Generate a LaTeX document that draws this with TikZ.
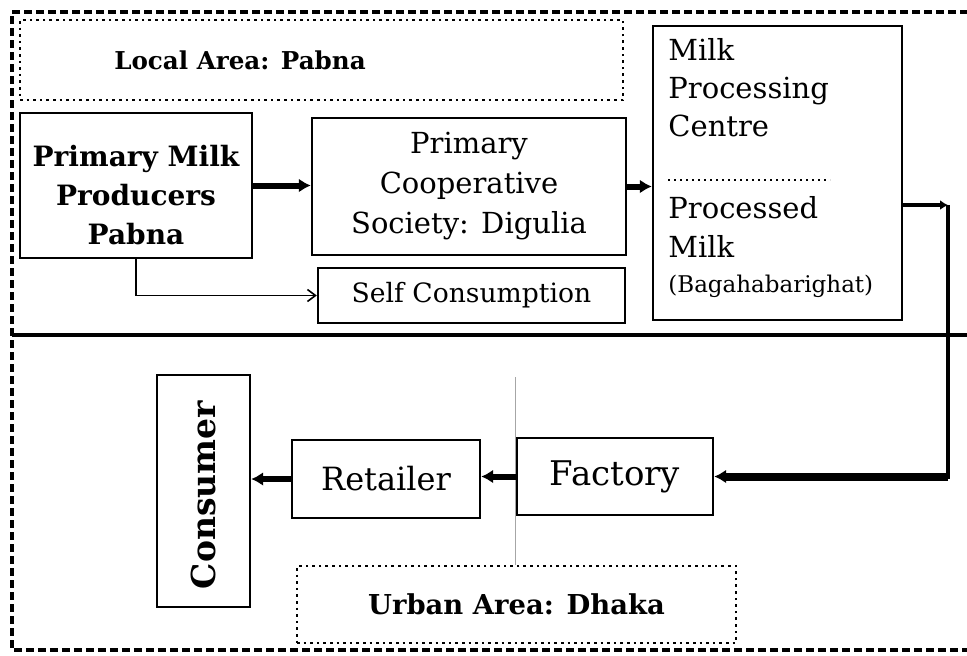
\documentclass[tikz,border=0pt]{standalone}
\usepackage{fontspec}
\setmainfont{DejaVu Serif}
\usetikzlibrary{arrows.meta,positioning}

\begin{document}
\begin{tikzpicture}[
    x=0.5pt, y=-0.5pt,
    every node/.style={font=\fontsize{12}{19}\selectfont},
    box/.style={draw,line width=1.2pt,inner sep=0pt,align=center},
    area/.style={draw,dotted,line width=1.3pt,inner sep=0pt},
    flow/.style={-{Latex[length=6pt,width=7pt]},line width=3pt},
    thinflow/.style={-{Straight Barb[length=4pt,width=6pt]},line width=0.8pt}
  ]
    \useasboundingbox (0,0) rectangle (967,655);

    % Outer border and divider
    \draw[line width=1.6pt,dash pattern=on 4pt off 2pt] (980,12) -- (12,12) -- (12,650) -- (980,650);
    \draw[line width=1.6pt] (12,335) -- (967,335);

    % Local area
    \node[area,minimum width=301.5pt,minimum height=40pt] (local) at (321.5,60) {};
    \node[font=\fontsize{12.3}{14}\selectfont\bfseries] (localtxt) at (240,60) {Local Area: Pabna};

    % Upper row
    \node[box,minimum width=116pt,minimum height=72.5pt] (prod) at (136,185.5) {};
    \node[align=center,font=\fontsize{14}{19.5}\selectfont\bfseries] (prodtxt) at (136,195) {Primary Milk\\Producers\\Pabna};
    \node[box,minimum width=157pt,minimum height=68.5pt,font=\fontsize{14.5}{20}\selectfont] (coop) at (469,186.5) {Primary\\Cooperative\\Society: Digulia};
    \node[box,minimum width=153.5pt,minimum height=27.5pt,font=\fontsize{13.3}{15}\selectfont] (self) at (471.5,295.5) {Self Consumption};

    % Milk processing centre
    \node[box,minimum width=124.5pt,minimum height=147pt] (mpc) at (777.5,173) {};
    \node[anchor=north west,align=left,inner sep=0pt,font=\fontsize{14.5}{19}\selectfont] (mpctop) at (668,38) {Milk\\Processing\\Centre};
    \node[anchor=north west,align=left,inner sep=0pt,font=\fontsize{14.5}{19.5}\selectfont] (mpcbot) at (668,196) {Processed\\Milk\\[-2pt]{\fontsize{11.5}{14}\selectfont(Bagahabarighat)}};
    \draw[dotted,line width=1pt] (668,180) -- (830,180);

    % Lower row
    \node[box,minimum width=98pt,minimum height=38.5pt,font=\fontsize{17}{19}\selectfont] (factory) at (615,476.5) {Factory};
    \node[box,minimum width=94pt,minimum height=39pt,font=\fontsize{16}{18}\selectfont] (retailer) at (386,479) {Retailer};
    \node[box,minimum width=46.5pt,minimum height=116pt] (consumer) at (203.5,491) {};
    \node[rotate=90,font=\fontsize{16.5}{18}\selectfont\bfseries] (constxt) at (203.5,495) {Consumer};

    % Urban area
    \draw[gray!70,line width=0.5pt] (515,377) -- (515,565);
    \node[area,minimum width=219.5pt,minimum height=38.5pt,font=\fontsize{13.7}{15}\selectfont\bfseries] (urban) at (516.5,604.5) {Urban Area: Dhaka};

    % Corner points of the return line
    \coordinate (c1) at (948,205);
    \coordinate (c2) at (948,476.5);

    % Connections
    \draw[flow] (prod.east) -- (prod.east -| coop.west);
    \draw[flow] (coop.east) -- (coop.east -| mpc.west);
    \draw[thinflow] (prod.south) |- (self.west);
    \draw[-{Latex[length=4pt,width=5pt]},line width=2pt] (mpc.east |- c1) -- (c1);
    \draw[line width=2pt] (c1) -- ([yshift=-1pt]c2);
    \draw[flow,line width=4pt] (c2) -- (factory.east);
    \draw[flow] (factory.west) -- (factory.west -| retailer.east);
    \draw[flow] (retailer.west) -- (retailer.west -| consumer.east);
  \end{tikzpicture}
\end{document}
